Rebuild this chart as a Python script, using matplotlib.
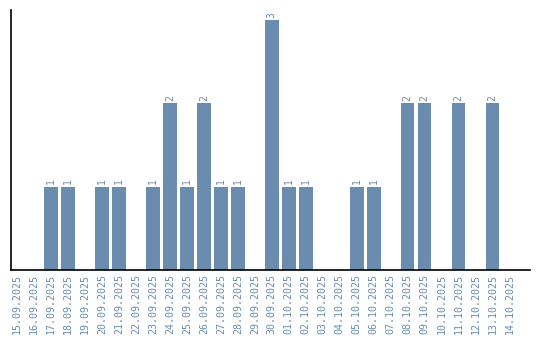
import matplotlib
matplotlib.use("Agg")
import matplotlib.pyplot as plt

dates = ["15.09.2025","16.09.2025","17.09.2025","18.09.2025","19.09.2025","20.09.2025",
         "21.09.2025","22.09.2025","23.09.2025","24.09.2025","25.09.2025","26.09.2025",
         "27.09.2025","28.09.2025","29.09.2025","30.09.2025","01.10.2025","02.10.2025",
         "03.10.2025","04.10.2025","05.10.2025","06.10.2025","07.10.2025","08.10.2025",
         "09.10.2025","10.10.2025","11.10.2025","12.10.2025","13.10.2025","14.10.2025"]
counts = [0,0,1,1,0,1,1,0,1,2,1,2,1,1,0,3,1,1,0,0,1,1,0,2,2,0,2,0,2,0]

color = "#6a8caf"
fig = plt.figure(figsize=(5.4, 3.4), dpi=100)
ax = fig.add_axes([11/540, 70/340, 519/540, 260/340])
x = list(range(len(dates)))
ax.bar(x, counts, width=0.8, color=color)
for xi, v in zip(x, counts):
    if v > 0:
        ax.text(xi, v + 0.03, str(v), rotation=90, ha="center", va="bottom",
                fontsize=7, color=color, family="DejaVu Sans Mono")
ax.set_xlim(-0.35, 30.2)
ax.set_ylim(0, 3.12)
ax.set_xticks(x)
ax.set_xticklabels(dates, rotation=90, fontsize=7.2, color=color, family="DejaVu Sans Mono")
ax.tick_params(axis="x", length=0, pad=3)
ax.set_yticks([])
for s in ["top", "right"]:
    ax.spines[s].set_visible(False)
for s in ["left", "bottom"]:
    ax.spines[s].set_color("black")
    ax.spines[s].set_linewidth(1.2)
fig.savefig("out.png", dpi=100)
